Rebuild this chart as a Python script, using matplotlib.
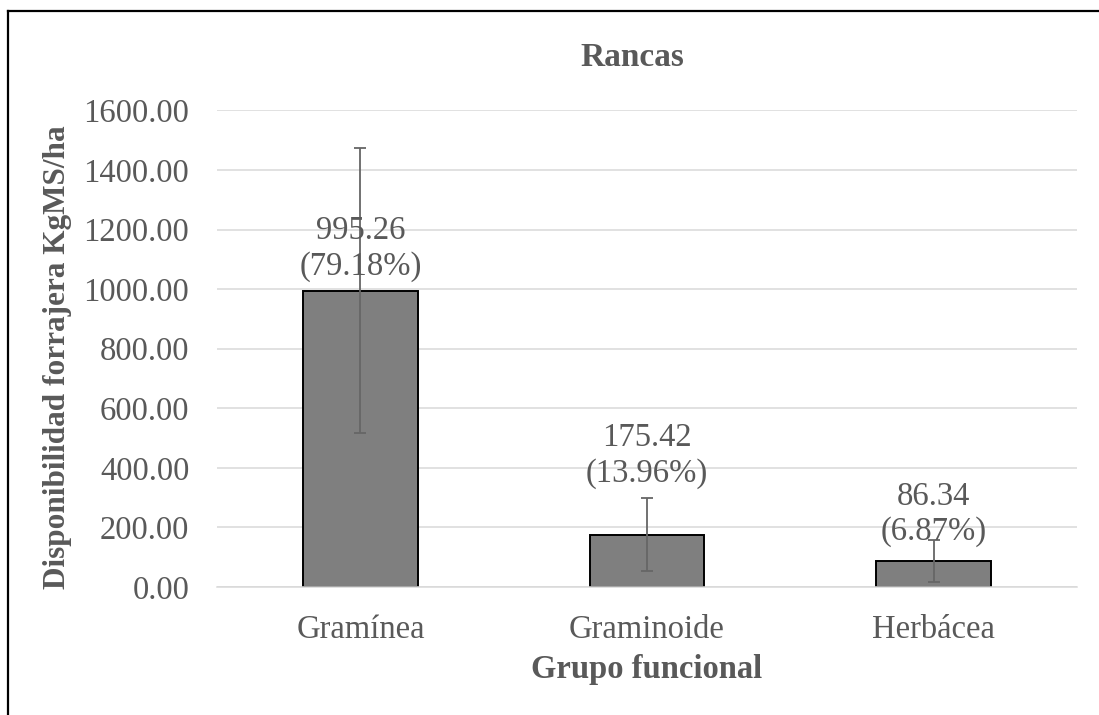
import matplotlib.pyplot as plt
from matplotlib.lines import Line2D

categories = ['Gramínea', 'Graminoide', 'Herbácea']
values = [995.26, 175.42, 86.34]
errors = [478, 122, 70]
percents = ['79.18%', '13.96%', '6.87%']
yticks = [0, 200, 400, 600, 800, 1000, 1200, 1400, 1600]

plt.rcParams['font.family'] = ['Liberation Serif', 'DejaVu Serif']
gray_txt = '#595959'

fig = plt.figure(figsize=(10.99, 7.15), dpi=100)
ax = fig.add_axes([0.1975, 0.179, 0.7825, 0.6665])

x = range(len(categories))
ax.bar(x, values, width=0.40, color='#7f7f7f', edgecolor='black', linewidth=1.4, zorder=2)
ax.errorbar(x, values, yerr=errors, fmt='none', ecolor='#666666', elinewidth=1.3,
            capsize=4.3, capthick=1.3, zorder=3)

# label positions (data units)
label_y = [1135, 440, 245]
for i, v in enumerate(values):
    ax.text(i, label_y[i], f'{v:.2f}\n({percents[i]})', ha='center', va='center',
            fontsize=23.5, color=gray_txt, linespacing=1.2, zorder=4)

ax.set_xlim(-0.5, 2.5)
ax.set_ylim(0, 1600)
ax.set_yticks(yticks)
ax.set_yticklabels([f'{t:.2f}' for t in yticks])
ax.set_xticks(list(x))
ax.set_xticklabels(categories)
ax.tick_params(axis='both', length=0, labelsize=23.5, labelcolor=gray_txt)
ax.tick_params(axis='y', pad=20)
ax.tick_params(axis='x', pad=20)
ax.grid(axis='y', color='#d9d9d9', linewidth=1.1, zorder=0)
ax.set_axisbelow(True)
for s in ['top', 'right', 'left']:
    ax.spines[s].set_visible(False)
ax.spines['bottom'].set_color('#d9d9d9')
ax.spines['bottom'].set_linewidth(1.1)

ax.set_xlabel('Grupo funcional', fontsize=23.5, fontweight='bold', color=gray_txt, labelpad=6)
ax.set_ylabel('Disponibilidad forrajera KgMS/ha', fontsize=22.5, fontweight='bold',
              color=gray_txt)
ax.yaxis.set_label_coords(-0.169, 0.483)
fig.text(0.575, 1 - 57 / 715, 'Rancas', ha='center', va='center', fontsize=24,
         fontweight='bold', color=gray_txt)

# outer border (top and left visible)
fig.add_artist(Line2D([8 / 1099, 1], [1 - 11 / 715, 1 - 11 / 715], color='black', linewidth=1.6,
                      transform=fig.transFigure))
fig.add_artist(Line2D([8 / 1099, 8 / 1099], [0, 1 - 11 / 715], color='black', linewidth=1.6,
                      transform=fig.transFigure))

fig.savefig('out.png', dpi=100)
